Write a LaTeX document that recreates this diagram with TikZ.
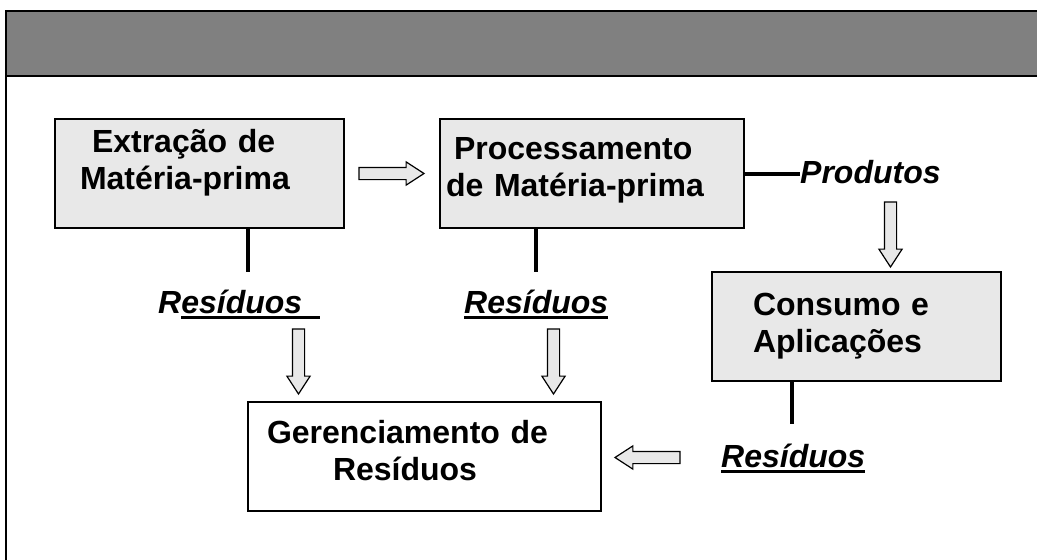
\documentclass[tikz,border=0pt]{standalone}
\usepackage{fontspec}
\setmainfont{Liberation Sans}
\usepackage{tikz}
\usetikzlibrary{positioning}
\usetikzlibrary{shapes.arrows}
\usetikzlibrary{calc}
\definecolor{bandgray}{RGB}{128,128,128}
\definecolor{boxgray}{RGB}{232,232,232}
\newsavebox\ulbox
\newcommand{\ulbar}[1]{\sbox\ulbox{#1}\rlap{\rule[-6pt]{\wd\ulbox}{3pt}}\usebox\ulbox}

\begin{document}
\begin{tikzpicture}[x=1pt, y=-1pt,
		stage/.style={draw, line width=1.5pt, fill=boxgray, anchor=north west, outer sep=0pt,
			align=left, inner ysep=0pt, font=\fontsize{32}{37}\selectfont\bfseries},
		outcome/.style={anchor=base west, inner sep=0pt, font=\fontsize{32}{37}\selectfont\bfseries\itshape},
		wire/.style={line width=3.5pt},
		hollow/.style={single arrow, draw, line width=1.2pt, fill=boxgray, minimum height=65pt, anchor=tail,
			outer sep=0pt, inner xsep=0pt, inner ysep=5.5pt, single arrow head extend=5.5pt, single arrow tip angle=66},
		hollow down/.style={hollow, shape border rotate=270, inner xsep=5.5pt, inner ysep=0pt}]
	\useasboundingbox (0,0) rectangle (1037,560);
	% header band and frame
	\fill[bandgray] (6,11) rectangle (1037,76);
	\draw[line width=2pt] (1037,11) -- (6,11) -- (6,560);
	\draw[line width=2pt] (6,76) -- (1037,76);
	
	\node[stage, text width=239pt, inner xsep=25pt, text height=33pt, text depth=76pt](node1) at (55,119) {\hspace*{12pt}Extração de\\Matéria-prima};
	\node[stage, text width=292pt, inner xsep=6pt, text height=40pt, text depth=69pt](node2) at (440,119) {\hspace*{8pt}Processamento\\de Matéria-prima};
	\node[stage, text width=207pt, inner xsep=41pt, text height=43pt, text depth=66pt](node3) at (712,272) {Consumo e\\Aplicações};
	\node[stage, fill=white, text width=315pt, inner xsep=19pt, text height=41pt, text depth=68pt](node4) at (248,402) {Gerenciamento de\\\hspace*{66pt}Resíduos};
	
	\node[outcome](prod) at (800,183) {Produtos};
	\node[outcome](res1) at (158,313) {R\ulbar{esíduos\ \ }};
	\node[outcome](res2) at (464,313) {\ulbar{Resíduos}};
	\node[outcome](res3) at (721,467) {\ulbar{Resíduos}};
	
	\coordinate (cut1) at (248,272);
	\coordinate (cut2) at (536,272);
	\coordinate (cut3) at (792,424);
	\draw[wire] (node1.south -| cut1) -- (cut1);
	\draw[wire] (node2.south -| cut2) -- (cut2);
	\draw[wire] (node3.south -| cut3) -- (cut3);
	\draw[line width=4pt] (node2.east) -- (node2.east -| prod.west);
	
	\node[hollow](arr1) at ($(node1.east)+(15,0)$) {};
	\node[hollow down](arr2) at (890.5,202) {};
	\node[hollow down](arr3) at (298.5,329) {};
	\node[hollow down](arr4) at (553.5,329) {};
	\node[hollow, shape border rotate=180](arr5) at (680,457.5) {};
\end{tikzpicture}
\end{document}
